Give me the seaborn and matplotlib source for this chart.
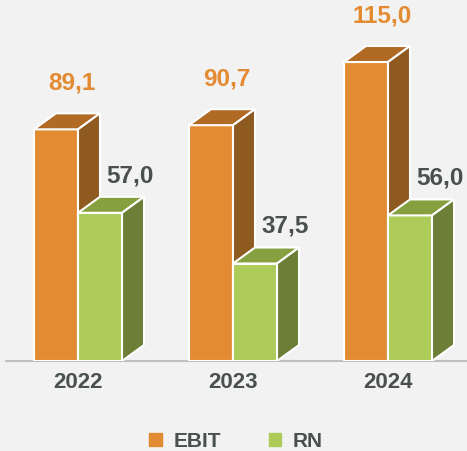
import numpy as np
import pandas as pd
import seaborn as sns
import matplotlib.pyplot as plt
from matplotlib.patches import Polygon, Patch

years = ["2022", "2023", "2024"]
ebit = [89.1, 90.7, 115.0]
rn = [57.0, 37.5, 56.0]
series = ["EBIT", "RN"]

front = {"EBIT": "#E38B32", "RN": "#ADCB59"}
top_c = {"EBIT": "#B06A23", "RN": "#87A03F"}
side_c = {"EBIT": "#8F5A1F", "RN": "#6C7F37"}
label_c = {"EBIT": "#E38B32", "RN": "#4A4F50"}
gray = "#4A4F50"
bg = "#F2F2F2"

df = pd.DataFrame({
    "year": years * 2,
    "metric": ["EBIT"] * 3 + ["RN"] * 3,
    "value": ebit + rn,
})

sns.set_style("white")
plt.rcParams["font.family"] = ["Liberation Sans", "DejaVu Sans"]

fig = plt.figure(figsize=(4.67, 4.52), dpi=100)
fig.patch.set_facecolor(bg)
ax = fig.add_axes([0, 90 / 452, 1, 362 / 452])
ax.set_facecolor(bg)

sns.barplot(data=df, x="year", y="value", hue="metric", hue_order=series,
            palette=[front[s] for s in series], saturation=1, width=0.568,
            edgecolor="white", linewidth=1.5, legend=False, ax=ax)

ax.set_xlim(-78 / 155, (467 - 78) / 155)
ax.set_ylim(0, 362 / 2.6)

# 3d look: depth in data units
dx = 22 / 155
dy = 16 / 2.6
for i, (name, cont) in enumerate(zip(series, ax.containers)):
    z = 2 + i
    for bar in cont.patches:
        bar.set_zorder(z)
        x0 = bar.get_x()
        x1 = x0 + bar.get_width()
        h = bar.get_height()
        top = Polygon([(x0, h), (x1, h), (x1 + dx, h + dy), (x0 + dx, h + dy)],
                      closed=True, fc=top_c[name], ec="white", lw=1.5, zorder=z)
        side = Polygon([(x1, 0), (x1 + dx, dy), (x1 + dx, h + dy), (x1, h)],
                       closed=True, fc=side_c[name], ec="white", lw=1.5, zorder=z)
        ax.add_patch(top)
        ax.add_patch(side)
        off = (16, 47) if name == "EBIT" else (30, 38)
        ax.annotate(f"{h:.1f}".replace(".", ","), (x0 + bar.get_width() / 2, h),
                    xytext=off, textcoords="offset pixels", ha="center", va="center",
                    fontsize=17.5, fontweight="bold", color=label_c[name], zorder=5)

ax.plot([-72 / 155, ax.get_xlim()[1]], [0, 0], color="#BFBFBF", lw=1.5, zorder=1,
        clip_on=False)

sns.despine(ax=ax, left=True, bottom=True)
ax.set_yticks([])
ax.set_xlabel("")
ax.set_ylabel("")
ax.tick_params(axis="x", length=0, pad=7, labelsize=16, labelcolor=gray)
for t in ax.get_xticklabels():
    t.set_fontweight("bold")

handles = [Patch(color=front[s]) for s in series]
leg = fig.legend(handles, series, loc="center", bbox_to_anchor=(0.505, 10 / 452),
                 ncol=2, frameon=False, handlelength=0.6, handleheight=0.6,
                 handletextpad=0.55, columnspacing=2.3,
                 prop={"size": 15, "weight": "bold"})
for t in leg.get_texts():
    t.set_color(gray)

fig.savefig("out.png", dpi=100, facecolor=bg)
